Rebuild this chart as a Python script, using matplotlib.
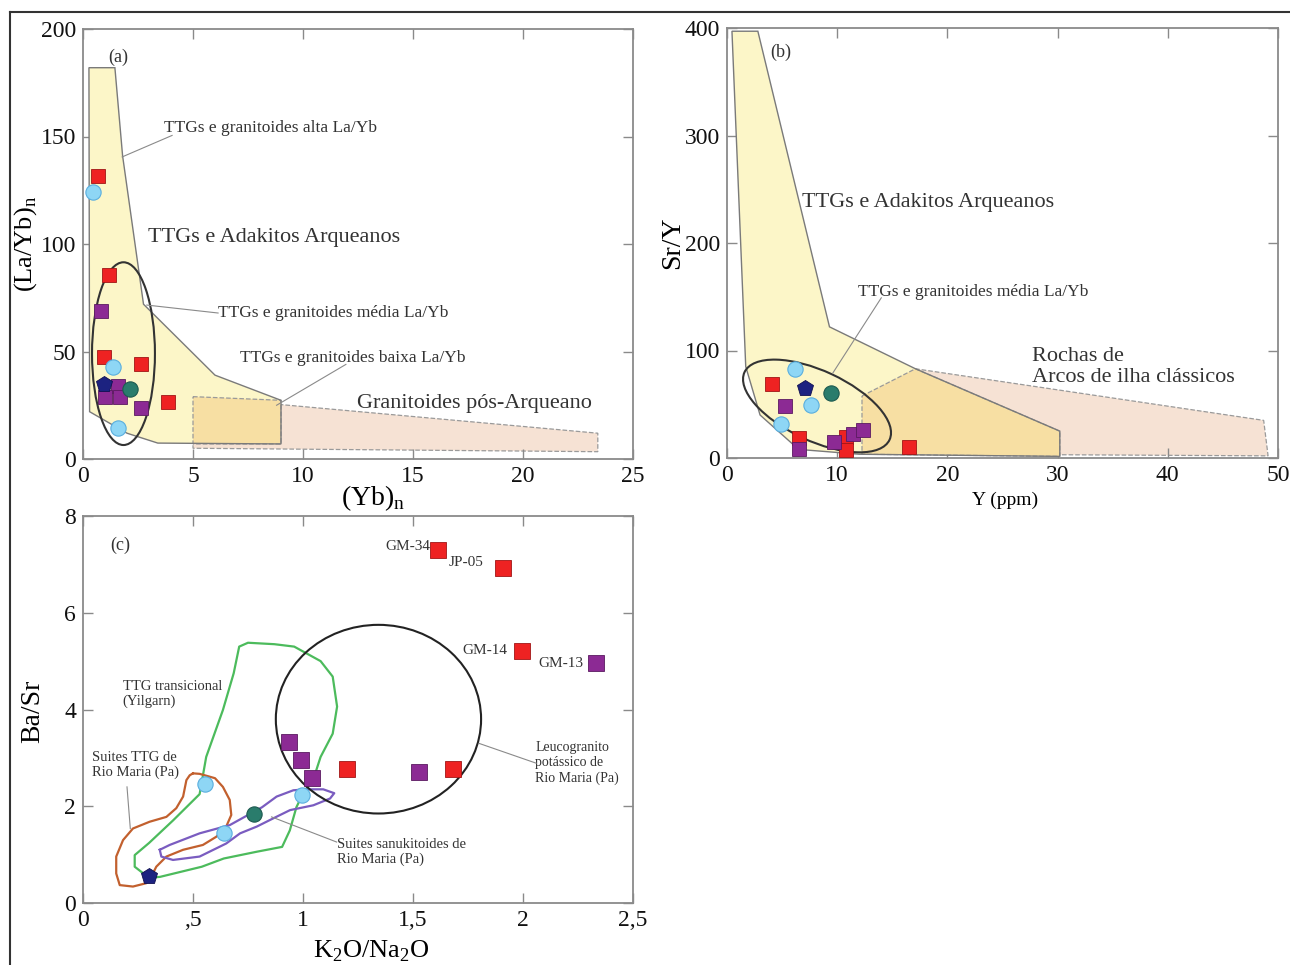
import matplotlib
matplotlib.use("Agg")
import matplotlib.pyplot as plt
import matplotlib.transforms as mtransforms
from matplotlib.patches import Ellipse, Polygon
from matplotlib.lines import Line2D

plt.rcParams['font.family'] = ['Liberation Serif', 'DejaVu Serif']
plt.rcParams['mathtext.fontset'] = 'custom'
plt.rcParams['mathtext.rm'] = 'Liberation Serif'

# ---- (a) (Yb)n x (La/Yb)n ----
a_red_x = [0.69, 1.18, 0.97, 2.64, 3.87]
a_red_y = [131.5, 85.5, 47.5, 44.0, 26.5]
a_purple_x = [0.83, 1.60, 1.00, 1.68, 2.64]
a_purple_y = [69.0, 34.0, 29.0, 29.0, 23.7]
a_cyan_x = [0.46, 1.37, 1.60]
a_cyan_y = [124.0, 43.0, 14.4]
a_teal_x = [2.14]
a_teal_y = [32.5]
a_navy_x = [0.97]
a_navy_y = [35.0]

a_ttg_field = [(0.27, 182), (1.45, 182), (1.8, 141), (2.75, 72), (6.0, 39), (9.0, 27.3),
               (9.0, 7), (3.4, 7.4), (2.0, 12), (0.3, 22)]
a_low_field = [(5, 29), (9, 27.3), (9, 7), (5, 7)]
a_post_field = [(5, 29), (23.4, 12), (23.4, 3.4), (5, 5)]

# ---- (b) Y x Sr/Y ----
b_red_x = [4.05, 6.5, 10.8, 10.8, 16.5]
b_red_y = [68.8, 18.6, 19.5, 7.4, 10.5]
b_purple_x = [5.26, 6.5, 9.7, 11.45, 12.35]
b_purple_y = [48.4, 8.4, 15.2, 22.3, 26.0]
b_cyan_x = [6.17, 7.62, 4.9]
b_cyan_y = [82.8, 49.3, 31.6]
b_teal_x = [9.44]
b_teal_y = [60.8]
b_navy_x = [7.08]
b_navy_y = [65.0]

b_ttg_field = [(0.45, 397), (2.8, 397), (9.3, 122), (17.1, 83), (30.2, 25), (30.2, 1.5),
               (12, 3.5), (6.5, 8), (3.0, 40), (1.7, 85)]
b_low_field = [(12.25, 57.7), (17.1, 83), (30.2, 25), (30.2, 1.5), (12.25, 3.5)]
b_arc_field = [(12.25, 57.7), (17.1, 83), (48.7, 35), (49.1, 2), (12.25, 4)]

# ---- (c) K2O/Na2O x Ba/Sr ----
c_red_x = [1.612, 1.909, 1.995, 1.20, 1.68]
c_red_y = [7.30, 6.92, 5.21, 2.76, 2.76]
c_purple_x = [2.33, 0.935, 0.99, 1.04, 1.526]
c_purple_y = [4.96, 3.32, 2.95, 2.59, 2.71]
c_cyan_x = [0.556, 0.994, 0.64]
c_cyan_y = [2.45, 2.24, 1.45]
c_teal_x = [0.777]
c_teal_y = [1.85]
c_navy_x = [0.302]
c_navy_y = [0.55]

c_sample_names = ['GM-34', 'JP-05', 'GM-14', 'GM-13']
c_sample_pos = [(1.58, 7.37, 'right'), (1.82, 7.03, 'right'), (1.93, 5.22, 'right'), (2.07, 4.96, 'left')]

c_yilgarn = [(0.30, 0.52), (0.235, 0.75), (0.235, 0.99), (0.30, 1.24), (0.41, 1.71), (0.53, 2.25),
             (0.56, 3.02), (0.636, 3.99), (0.685, 4.75), (0.71, 5.30), (0.75, 5.38), (0.87, 5.35),
             (0.96, 5.30), (1.08, 5.0), (1.135, 4.68), (1.155, 4.06), (1.135, 3.5), (1.08, 3.02),
             (1.05, 2.6), (1.0, 2.26), (0.97, 1.98), (0.94, 1.5), (0.905, 1.16), (0.79, 1.06),
             (0.64, 0.92), (0.54, 0.75), (0.35, 0.54)]
c_ttg_rm = [(0.50, 2.68), (0.53, 2.67), (0.60, 2.58), (0.636, 2.40), (0.667, 2.13), (0.674, 1.82),
            (0.651, 1.58), (0.606, 1.37), (0.545, 1.20), (0.455, 1.10), (0.379, 0.96), (0.333, 0.75),
            (0.31, 0.54), (0.288, 0.41), (0.227, 0.34), (0.167, 0.37), (0.151, 0.61), (0.151, 0.96),
            (0.182, 1.30), (0.227, 1.54), (0.303, 1.68), (0.379, 1.78), (0.424, 1.96), (0.455, 2.20),
            (0.47, 2.54), (0.485, 2.64)]
c_sanuk = [(0.349, 1.10), (0.394, 1.20), (0.53, 1.44), (0.667, 1.61), (0.814, 1.98), (0.88, 2.20),
           (0.956, 2.33), (1.017, 2.35), (1.092, 2.35), (1.142, 2.27), (1.123, 2.16), (1.047, 2.02),
           (0.941, 1.92), (0.865, 1.75), (0.79, 1.58), (0.714, 1.44), (0.651, 1.23), (0.53, 0.96),
           (0.409, 0.89), (0.356, 0.96)]

YELLOW = '#fcf6c8'
ORANGE = '#f7dfa3'
PINK = '#f6e2d4'
EDGE = '#7a7a7a'
TXT = '#333333'


def style_axes(ax, xlim, ylim, xticks, yticks, xlabels=None):
    ax.set_xlim(*xlim)
    ax.set_ylim(*ylim)
    ax.set_xticks(xticks)
    ax.set_yticks(yticks)
    if xlabels is not None:
        ax.set_xticklabels(xlabels)
    ax.tick_params(direction='in', length=7, width=1, color='#8a8a8a', top=True, right=True,
                   labelsize=17, labelcolor='#111111', pad=5)
    for sp in ax.spines.values():
        sp.set_color('#8a8a8a')
        sp.set_linewidth(1.3)


def draw_samples(ax, rx, ry, px, py, cx, cy, tx, ty, nx, ny, sq=9.5):
    ax.plot(rx, ry, 's', ms=sq, mfc='#ee2222', mec='#a01515', mew=0.6, zorder=5)
    ax.plot(px, py, 's', ms=sq, mfc='#8c2a94', mec='#5a1a60', mew=0.6, zorder=5)
    ax.plot(cx, cy, 'o', ms=11, mfc='#8ed6f5', mec='#5aaede', mew=0.8, zorder=6)
    ax.plot(nx, ny, 'p', ms=12, mfc='#1c2280', mec='#101050', mew=0.6, zorder=6)
    ax.plot(tx, ty, 'o', ms=11, mfc='#2a7c6c', mec='#1d5a50', mew=0.8, zorder=6)


def pointer(ax, p0, p1):
    ax.plot([p0[0], p1[0]], [p0[1], p1[1]], color='#8a8a8a', lw=0.8, zorder=4)


def fields(ax, ttg, low, other):
    ax.add_patch(Polygon(other, closed=True, fc=PINK, ec='#9a9a9a', lw=0.9, ls='--', zorder=1))
    ax.add_patch(Polygon(ttg, closed=True, fc=YELLOW, ec='none', zorder=2))
    ax.add_patch(Polygon(low, closed=True, fc=ORANGE, ec='#9a9a9a', lw=0.9, ls='--', zorder=2))
    ax.add_patch(Polygon(ttg, closed=True, fc='none', ec=EDGE, lw=1.0, zorder=3))


fig = plt.figure(figsize=(12.9, 9.65), dpi=100)

# frame around the figure
fig.add_artist(Line2D([10 / 1290, 1.0], [1 - 12 / 965] * 2, color='#333333', lw=1.5))
fig.add_artist(Line2D([10 / 1290] * 2, [0.0, 1 - 12 / 965], color='#333333', lw=1.5))

# ---------- (a) ----------
ax = fig.add_axes([83 / 1290, 1 - 459 / 965, 550 / 1290, 430 / 965])
style_axes(ax, (0, 25), (0, 200), [0, 5, 10, 15, 20, 25], [0, 50, 100, 150, 200])
fields(ax, a_ttg_field, a_low_field, a_post_field)
ax.add_patch(Ellipse((1.84, 49), 2.86, 85, fc='none', ec='#333333', lw=1.5, zorder=4))
draw_samples(ax, a_red_x, a_red_y, a_purple_x, a_purple_y, a_cyan_x, a_cyan_y,
             a_teal_x, a_teal_y, a_navy_x, a_navy_y)
ax.text(1.6, 187, '(a)', fontsize=13, color=TXT, ha='center', va='center')
ax.text(3.68, 154, 'TTGs e granitoides alta La/Yb', fontsize=12.5, color=TXT, va='center')
pointer(ax, (1.78, 140.5), (4.05, 150.5))
ax.text(2.95, 103, 'TTGs e Adakitos Arqueanos', fontsize=16, color=TXT, va='center')
ax.text(6.14, 68, 'TTGs e granitoides média La/Yb', fontsize=12.5, color=TXT, va='center')
pointer(ax, (2.9, 71.6), (6.14, 67.9))
ax.text(7.15, 47, 'TTGs e granitoides baixa La/Yb', fontsize=12.5, color=TXT, va='center')
pointer(ax, (11.95, 44), (8.8, 25))
ax.text(12.45, 26, 'Granitoides pós-Arqueano', fontsize=16, color=TXT, va='center')
ax.set_ylabel(r'(La/Yb)$_\mathregular{n}$', fontsize=19, va='center')
ax.yaxis.set_label_coords(-0.104, 0.5)
ax.set_xlabel(r'(Yb)$_\mathregular{n}$', fontsize=20, va='center')
ax.xaxis.set_label_coords(0.527, -0.09)

# ---------- (b) ----------
ax = fig.add_axes([727 / 1290, 1 - 458 / 965, 551 / 1290, 430 / 965])
style_axes(ax, (0, 50), (0, 400), [0, 10, 20, 30, 40, 50], [0, 100, 200, 300, 400])
fields(ax, b_ttg_field, b_low_field, b_arc_field)
ell_tr = fig.dpi_scale_trans + mtransforms.ScaledTranslation(8.17, 48.4, ax.transData)
ax.add_patch(Ellipse((0, 0), 1.6, 0.7, angle=-25, transform=ell_tr,
                     fc='none', ec='#333333', lw=1.5, zorder=4))
draw_samples(ax, b_red_x, b_red_y, b_purple_x, b_purple_y, b_cyan_x, b_cyan_y,
             b_teal_x, b_teal_y, b_navy_x, b_navy_y)
ax.text(4.9, 377, '(b)', fontsize=13, color=TXT, ha='center', va='center')
ax.text(6.8, 238, 'TTGs e Adakitos Arqueanos', fontsize=16, color=TXT, va='center')
ax.text(11.9, 154, 'TTGs e granitoides média La/Yb', fontsize=12.5, color=TXT, va='center')
pointer(ax, (14.0, 149), (9.6, 79))
ax.text(27.7, 94.4, 'Rochas de', fontsize=16, color=TXT, va='center')
ax.text(27.7, 75, 'Arcos de ilha clássicos', fontsize=16, color=TXT, va='center')
ax.set_ylabel('Sr/Y', fontsize=20, va='center')
ax.yaxis.set_label_coords(-0.098, 0.5)
ax.set_xlabel('Y (ppm)', fontsize=14, va='center')
ax.xaxis.set_label_coords(0.505, -0.098)

# ---------- (c) ----------
ax = fig.add_axes([83 / 1290, 1 - 903 / 965, 550 / 1290, 387 / 965])
style_axes(ax, (0, 2.5), (0, 8), [0, 0.5, 1, 1.5, 2, 2.5], [0, 2, 4, 6, 8],
           ['0', ',5', '1', '1,5', '2', '2,5'])
for outline, col in [(c_yilgarn, '#4cbb5c'), (c_ttg_rm, '#c2602e'), (c_sanuk, '#7a5cc0')]:
    xs = [p[0] for p in outline] + [outline[0][0]]
    ys = [p[1] for p in outline] + [outline[0][1]]
    ax.plot(xs, ys, color=col, lw=1.6, solid_joinstyle='round', zorder=3)
ax.add_patch(Ellipse((1.343, 3.8), 0.933, 3.9, fc='none', ec='#222222', lw=1.5, zorder=4))
draw_samples(ax, c_red_x, c_red_y, c_purple_x, c_purple_y, c_cyan_x, c_cyan_y,
             c_teal_x, c_teal_y, c_navy_x, c_navy_y, sq=11)
for name, (x, y, ha) in zip(c_sample_names, c_sample_pos):
    ax.text(x, y, name, fontsize=11, color=TXT, ha=ha, va='center')
ax.text(0.17, 7.4, '(c)', fontsize=13, color=TXT, ha='center', va='center')
ax.text(0.18, 4.33, 'TTG transicional\n(Yilgarn)', fontsize=10.5, color=TXT, va='center', linespacing=1.15)
ax.text(0.04, 2.855, 'Suites TTG de\nRio Maria (Pa)', fontsize=10.5, color=TXT, va='center', linespacing=1.15)
pointer(ax, (0.2, 2.4), (0.215, 1.54))
ax.text(1.153, 1.06, 'Suites sanukitoides de\nRio Maria (Pa)', fontsize=10.5, color=TXT,
        va='center', linespacing=1.15)
pointer(ax, (0.857, 1.78), (1.153, 1.26))
ax.text(2.056, 2.89, 'Leucogranito\npotássico de\nRio Maria (Pa)', fontsize=10, color=TXT,
        va='center', linespacing=1.2)
pointer(ax, (1.80, 3.3), (2.06, 2.89))
ax.set_ylabel('Ba/Sr', fontsize=20, va='center')
ax.yaxis.set_label_coords(-0.091, 0.496)
ax.set_xlabel(r'K$_\mathregular{2}$O/Na$_\mathregular{2}$O', fontsize=19, va='center')
ax.xaxis.set_label_coords(0.525, -0.124)

fig.savefig('out.png', dpi=100)
